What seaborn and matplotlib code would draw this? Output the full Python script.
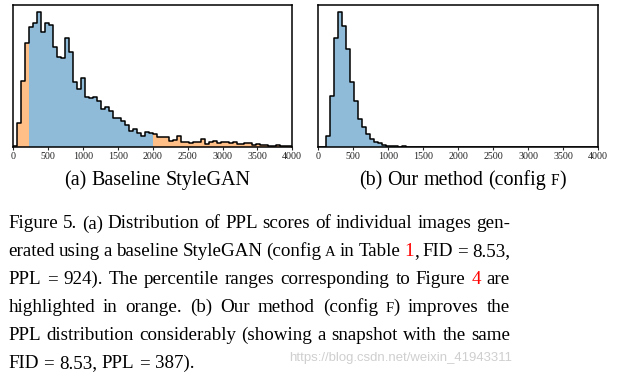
import re
import numpy as np
import pandas as pd
import matplotlib
matplotlib.use('Agg')
import matplotlib.pyplot as plt
import seaborn as sns

# PPL histograms, 70 bins over [0, 4000]
ppl_edges = np.linspace(0, 4000, 71)
ppl_centers = (ppl_edges[:-1] + ppl_edges[1:]) / 2

# bar heights (relative units, y axis is unlabeled)
baseline_counts = [3, 70, 198, 312, 360, 372, 404, 343, 372, 365,
                   298, 270, 265, 325, 284, 195, 172, 207, 148, 145,
                   148, 137, 112, 118, 107, 85, 85, 76, 64, 48,
                   52, 40, 32, 45, 40, 37, 28, 28, 30, 18,
                   20, 32, 15, 13, 12, 13, 13, 22, 7, 15,
                   18, 12, 13, 13, 10, 13, 7, 7, 10, 10,
                   5, 7, 5, 4, 3, 3, 5, 2, 2, 2]
# config F: only the first bins are non-empty, the rest are zero
ours_counts = [0, 0, 33, 153, 325, 403, 362, 292, 195, 137,
               83, 58, 37, 22, 13, 10, 5, 3, 3, 2, 0, 3]

# percentile ranges highlighted in orange (PPL values)
highlight_low = 230
highlight_high = 2000

x_ticks = list(range(0, 4001, 500))

sub_a = "(a) Baseline StyleGAN"
sub_b = "(b) Our method (config {F})"
# {x} = small caps, [x] = red reference
caption = [
    "Figure 5.  (a) Distribution of PPL scores of individual images gen-",
    "erated using a baseline StyleGAN (config {A} in Table [1], FID\u2009=\u20098.53,",
    "PPL\u2009=\u2009924).  The percentile ranges corresponding to Figure [4] are",
    "highlighted in orange.  (b) Our method (config {F}) improves the",
    "PPL distribution considerably (showing a snapshot with the same",
    "FID\u2009=\u20098.53, PPL\u2009=\u2009387).",
]
watermark = "https://blog.csdn.net/weixin_41943311"

BLUE = '#8fbbd9'
ORANGE = '#ffbf86'
W, H = 625, 375

sns.set_style('ticks')
plt.rcParams['font.family'] = ['Liberation Serif', 'DejaVu Serif']
plt.rcParams['axes.edgecolor'] = 'black'
plt.rcParams['axes.linewidth'] = 1.1

fig = plt.figure(figsize=(6.25, 3.75), dpi=100)
renderer = fig.canvas.get_renderer()


def draw_hist(ax, counts, cuts=None):
    counts = list(counts) + [0] * (len(ppl_centers) - len(counts))
    df = pd.DataFrame({'ppl': ppl_centers, 'count': np.array(counts, dtype=float)})
    if cuts is None:
        parts = [(df['ppl'] > 0, BLUE)]
    else:
        lo, hi = cuts
        parts = [(df['ppl'] < lo, ORANGE),
                 ((df['ppl'] > lo) & (df['ppl'] < hi), BLUE),
                 (df['ppl'] > hi, ORANGE)]
    for mask, color in parts:
        idx = np.flatnonzero(mask.values)
        sub = df.iloc[idx]
        edges = [float(e) for e in ppl_edges[idx[0]:idx[-1] + 2]]
        sns.histplot(data=sub, x='ppl', weights='count', bins=edges, element='step',
                     fill=True, color=color, alpha=1, linewidth=0, ax=ax)
    sns.histplot(data=df, x='ppl', weights='count', bins=[float(e) for e in ppl_edges],
                 element='step', fill=False, color='black', linewidth=1.1, ax=ax)
    ax.set_xlim(0, 4000)
    ax.set_ylim(0, 425)
    ax.set_xticks(x_ticks)
    ax.set_yticks([])
    ax.set_xlabel('')
    ax.set_ylabel('')
    ax.tick_params(axis='x', length=2, width=0.8, pad=1.5, labelsize=7.2, labelcolor='#222222')


ax_a = fig.add_axes([13.3 / W, 1 - 146.7 / H, 279 / W, 141.7 / H])
ax_b = fig.add_axes([318.3 / W, 1 - 146.7 / H, 279.7 / W, 141.7 / H])
draw_hist(ax_a, baseline_counts, (highlight_low, highlight_high))
draw_hist(ax_b, ours_counts)

# ---- text helpers: words with small caps / red refs, justified lines ----
TOKEN = re.compile(r'\{(.*?)\}|\[(.*?)\]|([^{\[]+)')


def pieces(word):
    out = []
    for sc, ref, plain in TOKEN.findall(word):
        if sc:
            out.append((sc, 0.78, 'black'))
        elif ref:
            out.append((ref, 1.0, 'red'))
        else:
            out.append((plain, 1.0, 'black'))
    return out


def make_words(line, size):
    words = []
    for w in line.split():
        texts = [fig.text(0, 0, s, fontsize=size * k, color=c, va='baseline')
                 for s, k, c in pieces(w)]
        widths = [t.get_window_extent(renderer).width for t in texts]
        words.append((texts, widths))
    return words


def natural_width(line, size):
    words = make_words(line, size)
    space = size * 100 / 72 * 0.25
    total = sum(sum(ws) for _, ws in words) + space * (len(words) - 1)
    for texts, _ in words:
        for t in texts:
            t.remove()
    return total


def add_line(line, x0, y, size, width=None, center=False):
    words = make_words(line, size)
    space = size * 100 / 72 * 0.25
    total = sum(sum(ws) for _, ws in words) + space * (len(words) - 1)
    if width is not None and len(words) > 1:
        space += (width - total) / (len(words) - 1)
    x = x0 - total / 2 if center else x0
    for texts, widths in words:
        for t, w in zip(texts, widths):
            t.set_position((x / W, 1 - y / H))
            x += w
        x += space


# subcaptions, sized to their width in the picture
size_a = 14 * 187.4 / natural_width(sub_a, 14)
size_b = 14 * 208.3 / natural_width(sub_b, 14)
add_line(sub_a, 157.0, 185.5, size_a, center=True)
add_line(sub_b, 462.5, 185.5, size_b, center=True)

# figure caption, justified between x=8.3 and x=510
cap_left, cap_right = 8.3, 510.0
cap_size = 14 * (cap_right - cap_left) / natural_width(caption[0], 14)
for i, line in enumerate(caption):
    y = 228.5 + 27.85 * i
    last = i == len(caption) - 1
    add_line(line, cap_left, y, cap_size, None if last else cap_right - cap_left)

wm = fig.text(512 / W, 1 - 361.5 / H, watermark, family='Liberation Sans',
              fontsize=9.4, color='#cfcfcf', ha='right', va='baseline')
wm.set_fontsize(9.4 * 222 / wm.get_window_extent(renderer).width)

fig.savefig('out.png', dpi=100)
